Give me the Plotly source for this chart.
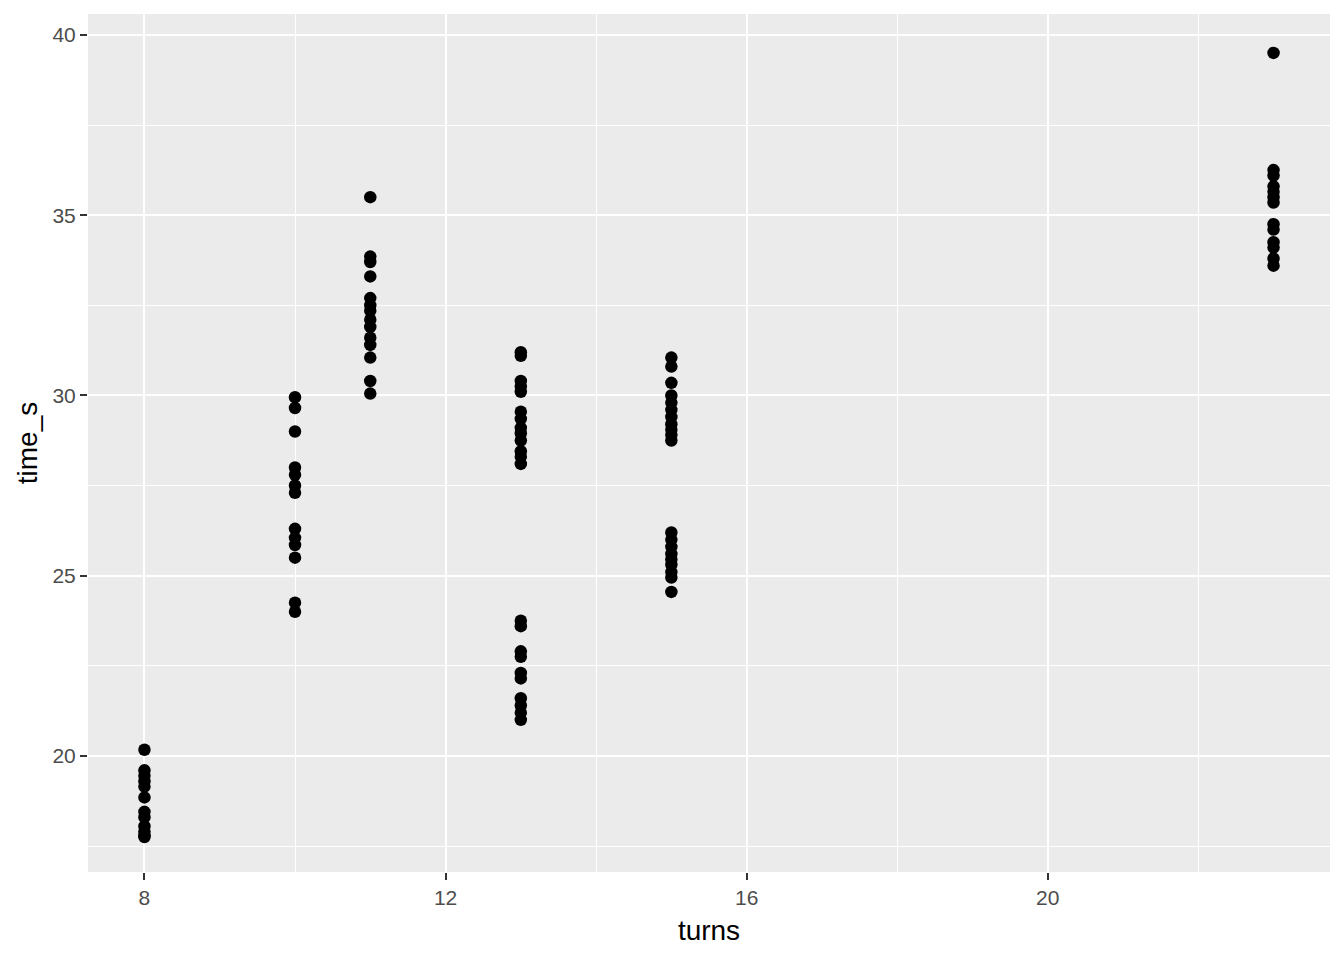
"""Scatter of lap time against number of turns, ggplot-like grey theme."""
import plotly.graph_objects as go

PANEL_BG = "#EBEBEB"
TICK_COLOR = "#4D4D4D"

# observed times per number of turns
turns_8 = [20.17, 19.6, 19.45, 19.3, 19.15, 18.85, 18.45, 18.3, 18.05, 17.9, 17.8, 17.75]
turns_10 = [29.95, 29.65, 29.0, 28.0, 27.8, 27.5, 27.3, 26.3, 26.05, 25.85, 25.5, 24.25, 24.0]
turns_11 = [35.5, 33.85, 33.7, 33.3, 32.7, 32.5, 32.35, 32.1, 31.9, 31.6, 31.4, 31.05, 30.4, 30.05]
turns_13 = [31.2, 31.1, 30.4, 30.25, 30.1, 29.55, 29.35, 29.1, 28.95, 28.75, 28.45, 28.3, 28.1,
            23.75, 23.6, 22.9, 22.75, 22.3, 22.15, 21.6, 21.4, 21.2, 21.0]
turns_15 = [31.05, 30.8, 30.35, 30.0, 29.8, 29.6, 29.4, 29.2, 29.05, 28.9, 28.75,
            26.2, 26.0, 25.8, 25.6, 25.45, 25.3, 25.1, 24.95, 24.55]
turns_23 = [39.5, 36.25, 36.1, 35.8, 35.65, 35.5, 35.35, 34.75, 34.6, 34.25, 34.1, 33.8, 33.6]

groups = {8: turns_8, 10: turns_10, 11: turns_11, 13: turns_13, 15: turns_15, 23: turns_23}
turns = [t for t, vals in groups.items() for _ in vals]
time_s = [v for vals in groups.values() for v in vals]

fig = go.Figure()
fig.add_trace(go.Scatter(
    x=turns, y=time_s, mode="markers",
    marker=dict(color="black", size=12.5, line=dict(width=0)),
    showlegend=False,
))

axis_common = dict(
    showline=False, zeroline=False,
    showgrid=True, gridcolor="white", gridwidth=2.2,
    ticks="outside", ticklen=7, tickwidth=2, tickcolor="#333333",
    tickfont=dict(size=21, color=TICK_COLOR),
)
fig.update_xaxes(
    **axis_common, range=[7.25, 23.75], tick0=8, dtick=4,
    minor=dict(dtick=2, showgrid=True, gridcolor="white", gridwidth=1.1, ticks=""),
    title=dict(text="turns", font=dict(size=28, color="black"), standoff=12),
)
fig.update_yaxes(
    **axis_common, range=[16.78, 40.58], tick0=20, dtick=5,
    minor=dict(dtick=2.5, tick0=17.5, showgrid=True, gridcolor="white", gridwidth=1.1, ticks=""),
    title=dict(text="time_s", font=dict(size=28, color="black"), standoff=6),
)
# page body has an 8px margin, so the figure is shrunk to fit the window
fig.update_layout(
    width=1328, height=944,
    plot_bgcolor=PANEL_BG, paper_bgcolor="white",
    font=dict(family="Liberation Sans, Arial, sans-serif"),
    margin=dict(l=80, r=6, t=6, b=80),
)

fig.write_html("out.html")
